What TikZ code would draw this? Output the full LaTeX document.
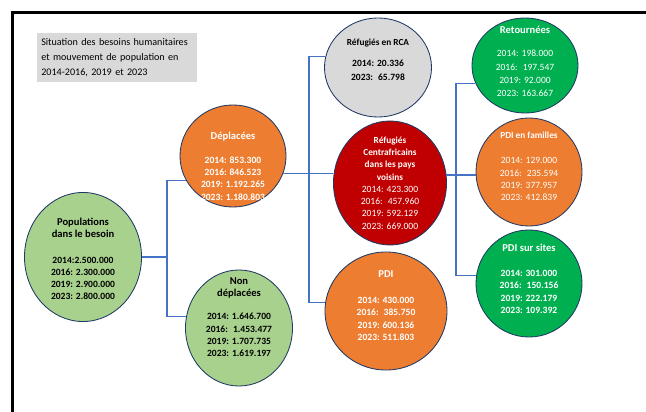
\documentclass[tikz,border=0pt]{standalone}
\usepackage{fontspec}
\setmainfont{Carlito}
\usetikzlibrary{shapes.geometric}
\definecolor{vertclair}{HTML}{A9D18E}
\definecolor{orangeb}{HTML}{ED7D31}
\definecolor{grisb}{HTML}{D9D9D9}
\definecolor{rougeb}{HTML}{C00000}
\definecolor{vertb}{HTML}{00B050}
\definecolor{bleub}{HTML}{4472C4}
\definecolor{bord}{HTML}{1F3864}
\tikzset{
  bulle/.style={ellipse,draw=bord,line width=.6pt,inner sep=0pt},
  lien/.style={draw=bleub,line width=.9pt},
  chiffres/.style={align=center,inner sep=0pt,font=\fontsize{6.8}{8.7}\selectfont},
  chiffresg/.style={align=center,inner sep=0pt,font=\fontsize{6.8}{8.7}\selectfont\bfseries},
}
\newcommand{\tete}[1]{{\fontsize{7.5}{8.7}\selectfont\bfseries #1}}
\newcommand{\petitetete}[1]{{\fontsize{6.6}{8.7}\selectfont\bfseries #1}}

\begin{document}
\begin{tikzpicture}[x=0.025cm,y=-0.025cm]
    \useasboundingbox (0,0) rectangle (646,412);
    \draw[line width=2.8pt] (12.5,412) -- (12.5,12.5) -- (646,12.5);
    \node[fill=grisb,anchor=north west,text width=3.8cm,inner xsep=.1cm,minimum height=1.225cm,align=left,font=\fontsize{7.2}{10.6}\selectfont] (titre) at (37,33) {Situation des besoins humanitaires\\et mouvement de population en\\2014-2016, 2019 et 2023};
    \node[bulle,fill=vertclair,minimum width=2.925cm,minimum height=3.225cm] (pop) at (83,257) {};
    \node[bulle,fill=orangeb,minimum width=2.65cm,minimum height=2.55cm] (depl) at (233,156) {};
    \node[bulle,fill=vertclair,minimum width=2.675cm,minimum height=2.9cm] (nondepl) at (239,328) {};
    \node[bulle,fill=grisb,minimum width=2.675cm,minimum height=2.475cm] (rca) at (378,67.5) {};
    \node[bulle,fill=rougeb,minimum width=2.825cm,minimum height=3.1cm] (refcf) at (390,183) {};
    \node[bulle,fill=orangeb,minimum width=3.05cm,minimum height=2.95cm] (pdi) at (386,311) {};
    \node[bulle,fill=vertb,minimum width=2.65cm,minimum height=2.375cm] (ret) at (525,65.5) {};
    \node[bulle,fill=orangeb,minimum width=2.65cm,minimum height=2.7cm] (fam) at (529,172) {};
    \node[bulle,fill=vertb,minimum width=2.65cm,minimum height=2.675cm] (sites) at (529,283.5) {};
    \node[chiffresg] (poptxt) at (83,259) {\tete{Populations}\\\tete{dans le besoin}\\[9.5pt]2014:2.500.000\\2016: 2.300.000\\2019: 2.900.000\\2023: 2.800.000};
    \node[chiffresg,text=white] (depltxt) at (233,166) {\tete{Déplacées}\\[8.5pt]2014: 853.300\\2016: 846.523\\2019: 1.192.265\\2023: 1.180.803};
    \node[chiffresg] (nondepltxt) at (239,317) {\tete{Non}\\\tete{déplacées}\\[8pt]2014: 1.646.700\\2016: \ 1.453.477\\2019: 1.707.735\\2023: 1.619.19\petitetete{7}};
    \node[chiffresg] (rcatxt) at (378,59.5) {\petitetete{Réfugiés en RCA}\\[6pt]2014: 20.336\\[1.3pt]2023: \ 65.798};
    \node[chiffres,text=white] (refcftxt) at (390,183) {\petitetete{Réfugiés}\\\petitetete{Centrafricains}\\\petitetete{dans les pays}\\\petitetete{voisins}\\2014: 423.300\\2016: \ 457.960\\2019: 592.129\\2023: 669.000};
    \node[chiffresg,text=white] (pditxt) at (386,305.5) {\tete{PDI}\\[10pt]2014: 430.000\\2016: \ 385.750\\2019: 600.136\\2023: 511.803};
    \node[chiffres,text=white] (rettxt) at (525,61.5) {\tete{Retournées}\\[8pt]2014: 198.000\\[.8pt]2016: \ 197.547\\[.8pt]2019: 92.000\\[.8pt]2023: 163.667};
    \node[chiffres,text=white] (famtxt) at (529,166.5) {\petitetete{PDI en familles}\\[9pt]2014: 129.000\\2016: \ 235.594\\2019: 377.957\\2023: 412.839};
    \node[chiffresg,text=white] (sitestxt) at (529,279) {\tete{PDI sur sites}\\[9pt]2014: 301.000\\2016: \ 150.156\\2019: 222.179\\2023: 109.392};
    \coordinate (b1) at (167,258);
    \coordinate (b2) at (309,174);
    \coordinate (b3) at (456,175);
    \draw[lien] (pop.east) -- (pop.east -| b1);
    \draw[lien] (depl.208) -| (b1) |- (nondepl.168);
    \draw[lien] (depl.341) -- (depl.341 -| refcf.west);
    \draw[lien] (rca.168) -| (b2) |- (pdi.172);
    \draw[lien] (refcf.8) -- (refcf.8 -| fam.west);
    \draw[lien] (ret.200) -| (b3) |- (sites.171);
\end{tikzpicture}
\end{document}
